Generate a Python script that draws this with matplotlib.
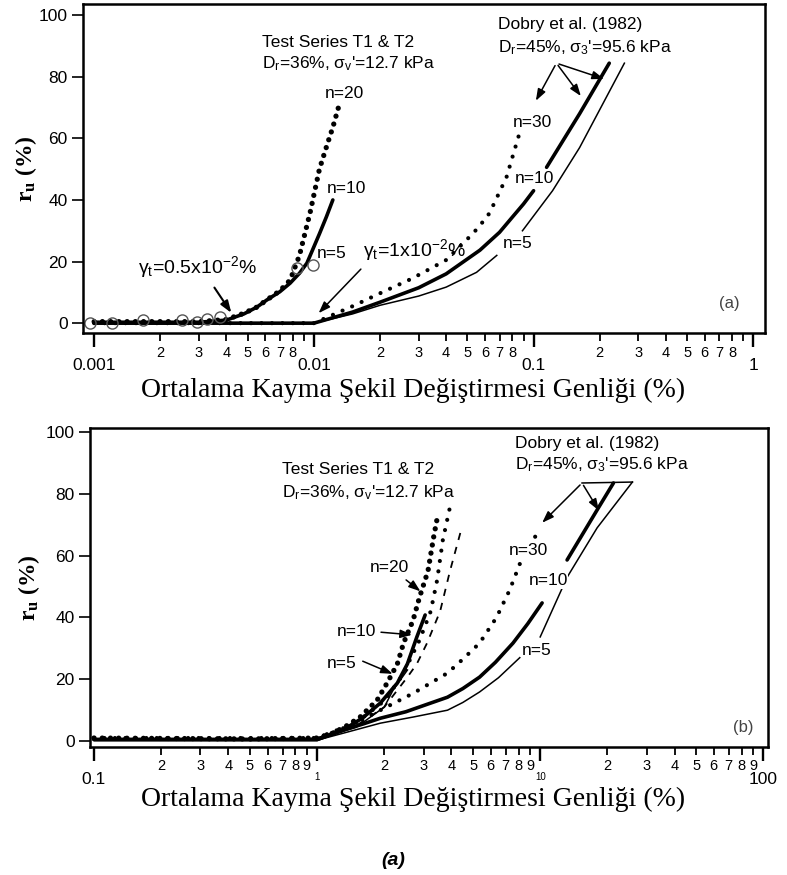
import matplotlib
matplotlib.use('Agg')
import matplotlib.pyplot as plt
from matplotlib.ticker import FixedLocator, FuncFormatter

plt.rcParams['font.family'] = ['Liberation Sans', 'DejaVu Sans']
plt.rcParams['mathtext.fontset'] = 'custom'
plt.rcParams['mathtext.rm'] = 'Liberation Sans'
plt.rcParams['mathtext.it'] = 'Liberation Sans:italic'
plt.rcParams['mathtext.bf'] = 'Liberation Serif:bold'

# ---------------- panel (a) data ----------------
a_t20_x = [0.001, 0.002, 0.003, 0.004, 0.0048, 0.0055, 0.0061, 0.007, 0.0078, 0.0086, 0.0096, 0.0106, 0.0115, 0.0122, 0.0131]
a_t20_y = [0.5, 0.5, 0.5, 1.2, 3.2, 5.2, 7.5, 10.5, 14, 22, 35.7, 50, 58, 63.6, 71.4]
a_t10_x = [0.001, 0.002, 0.003, 0.004, 0.0048, 0.0055, 0.0061, 0.007, 0.0078, 0.0086, 0.0093, 0.0106, 0.0114, 0.0122]
a_t10_y = [0.3, 0.3, 0.3, 1.0, 3.0, 5.2, 7.5, 10.2, 13, 16.2, 19.5, 29, 34.5, 40]
a_circ_x = [0.00096, 0.00121, 0.00167, 0.00251, 0.00294, 0.00326, 0.00374, 0.0084, 0.0099]
a_circ_y = [0, 0, 1, 1, 0.5, 1.5, 2, 18, 19]

a_d30_x = [0.001, 0.01, 0.015, 0.02, 0.028, 0.040, 0.0495, 0.056, 0.063, 0.0753, 0.0863]
a_d30_y = [0, 0, 5.5, 9.7, 14.5, 20.5, 27, 31, 35.7, 47.4, 61.7]
a_d10_x1 = [0.001, 0.01, 0.015, 0.02, 0.03, 0.040, 0.057, 0.07, 0.080, 0.09, 0.1]
a_d10_y1 = [0, 0, 3.6, 6.8, 11.5, 16, 23.7, 29.5, 34.4, 38.7, 43]
a_d10_x2 = [0.1146, 0.162, 0.221]
a_d10_y2 = [50.6, 68, 84.4]
a_d5_x1 = [0.001, 0.01, 0.015, 0.02, 0.03, 0.04, 0.055, 0.068]
a_d5_y1 = [0, 0, 3, 5.8, 8.8, 11.7, 16.5, 22]
a_d5_x2 = [0.089, 0.122, 0.162, 0.259]
a_d5_y2 = [30, 43, 57, 84.4]

# ---------------- panel (b) data ----------------
b_t20_x = [0.1, 0.5, 1.0, 1.18, 1.36, 1.56, 1.86, 2.06, 2.29, 2.44, 2.69, 2.88, 3.14, 3.33, 3.49]
b_t20_y = [1, 0.7, 1, 2.6, 5, 7.8, 13.3, 18.8, 25, 31.7, 39, 46.6, 55, 66, 73.8]
b_tb_x = [1.0, 1.5, 2.0, 2.4, 2.88, 3.23, 3.45, 3.66, 3.94]
b_tb_y = [1, 6, 13, 21, 32.7, 42, 52, 65, 75.7]
b_tc_x = [1.0, 1.5, 2.0, 2.54, 2.80, 3.11, 3.56, 3.94, 4.41]
b_tc_y = [1, 5, 11, 20.7, 25, 31.7, 42, 55, 68]
b_t10_x = [0.1, 1.0, 1.3, 1.6, 1.92, 2.29, 2.54, 2.80, 3.05]
b_t10_y = [0.5, 0.5, 3.5, 7.5, 12.3, 18.8, 25, 33.7, 40.8]
b_t5_x = [1.0, 1.5, 2.0, 2.19, 2.54]
b_t5_y = [0.5, 4.5, 11, 16.5, 23]

b_d30_x = [0.1, 1.0, 1.2, 1.5, 1.92, 2.7, 3.84, 4.5, 5.35, 6.37, 7.3, 8.13, 9.7]
b_d30_y = [1, 1, 3, 6, 10, 15.5, 22, 26.5, 31.7, 40, 48.9, 57.6, 67.3]
b_d10_x1 = [0.1, 1.0, 1.3, 1.6, 1.92, 2.5, 3.0, 3.84, 4.5, 5.35, 6.3, 7.55, 8.8, 10.2]
b_d10_y1 = [0.5, 0.5, 3.5, 5.5, 7.4, 9.5, 11.5, 14.2, 17, 20.7, 25.5, 31.7, 38, 44.7]
b_d10_x2 = [13.2, 18, 21.3]
b_d10_y2 = [58.6, 74.8, 83.5]
b_d5_x1 = [1.0, 1.3, 1.92, 2.7, 3.84, 4.5, 5.35, 6.5, 8.1]
b_d5_y1 = [0.3, 2.5, 5.8, 7.8, 10, 12.5, 15.9, 20.5, 27]
b_d5_x2 = [10, 13.2, 18, 25.9]
b_d5_y2 = [33.7, 53, 69, 83.8]
b_bracket_x = [15.4, 25.9]
b_bracket_y = [83.5, 83.8]

y_ticks = [0, 20, 40, 60, 80, 100]
xlabel_text = 'Ortalama Kayma Şekil Değiştirmesi Genliği (%)'

DOT_BIG = dict(color='black', lw=3.8, linestyle=(0, (0.01, 1.55)), dash_capstyle='round')
DOT_SMALL = dict(color='black', lw=3.0, linestyle=(0, (0.01, 2.5)), dash_capstyle='round')
THICK = dict(color='black', lw=2.6, solid_capstyle='round', solid_joinstyle='round')
THIN = dict(color='black', lw=1.1, solid_joinstyle='round')
ARROW = dict(arrowstyle='-|>,head_length=0.7,head_width=0.25', color='black', lw=1.1)
TXT = 12.5
WHITE = dict(facecolor='white', edgecolor='none', pad=0.5)

fig = plt.figure(figsize=(7.87, 8.75), dpi=100)
ax1 = fig.add_axes([0.1055, 0.6194, 0.8665, 0.376])
ax2 = fig.add_axes([0.1144, 0.1463, 0.8615, 0.3646])


def style_axis(ax, xmin, xmax, decades, minor_digits):
    ax.set_xscale('log')
    ax.set_xlim(xmin, xmax)
    ax.set_yticks(y_ticks)
    for s in ax.spines.values():
        s.set_linewidth(1.8)
    ax.xaxis.set_major_locator(FixedLocator(decades))
    minors = [d * k for d in decades[:-1] for k in range(2, 10)]
    ax.xaxis.set_minor_locator(FixedLocator(minors))
    labels = {d: '%g' % d for d in decades}
    ax.xaxis.set_major_formatter(FuncFormatter(lambda v, p: labels[min(labels, key=lambda k: abs(k - v))]))

    def minor_fmt(v, p):
        for d in decades:
            k = round(v / d)
            if abs(v / d - k) < 1e-6 and 2 <= k <= 9:
                return str(k) if k in minor_digits else ''
        return ''
    ax.xaxis.set_minor_formatter(FuncFormatter(minor_fmt))
    ax.tick_params(axis='x', which='major', direction='out', length=10, width=1.7, pad=8, labelsize=12.5)
    ax.tick_params(axis='x', which='minor', direction='out', length=6, width=1.3, pad=3, labelsize=10.5)
    ax.tick_params(axis='y', direction='out', length=8, width=1.2, pad=3, labelsize=12.5)
    ax.set_xlabel(xlabel_text, family='Liberation Serif', fontsize=20)
    ax.set_ylabel(r'$\mathbf{r_u}$ (%)', family='Liberation Serif', fontweight='bold', fontsize=17)


# ---------------- panel (a) ----------------
style_axis(ax1, 0.00089, 1.13, [0.001, 0.01, 0.1, 1], [2, 3, 4, 5, 6, 7, 8])
ax1.set_ylim(-3.2, 103.6)
ax1.xaxis.set_label_coords(0.484, -0.137)
ax1.yaxis.set_label_coords(-0.064, 0.5)

ax1.plot(a_d30_x, a_d30_y, **DOT_SMALL)
ax1.plot(a_d10_x1, a_d10_y1, **THICK)
ax1.plot(a_d10_x2, a_d10_y2, **THICK)
ax1.plot(a_d5_x1, a_d5_y1, **THIN)
ax1.plot(a_d5_x2, a_d5_y2, **THIN)
ax1.plot(a_t20_x, a_t20_y, **DOT_BIG)
ax1.plot(a_t10_x, a_t10_y, **THICK)
ax1.plot(a_circ_x, a_circ_y, 'o', mfc='none', mec='#555555', ms=8, mew=1.0)

ax1.text(0.0058, 91, 'Test Series T1 & T2', fontsize=TXT, va='center')
ax1.text(0.0058, 84.4, "D$_\\mathrm{r}$=36%, σ$_\\mathrm{v}$'=12.7 kPa", fontsize=TXT, va='center')
ax1.text(0.0686, 96.8, 'Dobry et al. (1982)', fontsize=TXT, va='center')
ax1.text(0.0686, 89.6, "D$_\\mathrm{r}$=45%, σ$_\\mathrm{3}$'=95.6 kPa", fontsize=TXT, va='center')
ax1.text(0.0112, 74.7, 'n=20', fontsize=TXT, va='center')
ax1.text(0.0114, 43.8, 'n=10', fontsize=TXT, va='center')
ax1.text(0.0103, 22.7, 'n=5', fontsize=TXT, va='center')
ax1.text(0.0804, 65, 'n=30', fontsize=TXT, va='center', bbox=WHITE)
ax1.text(0.0817, 47, 'n=10', fontsize=TXT, va='center', bbox=WHITE)
ax1.text(0.0723, 26, 'n=5', fontsize=TXT, va='center', bbox=WHITE)
ax1.text(0.70, 6.5, '(a)', fontsize=12, va='center', color='#444444')
ax1.text(0.00158, 18.2, 'γ$_\\mathrm{t}$=0.5x10$^{-2}$%', fontsize=14, va='center')
ax1.text(0.0167, 23.7, 'γ$_\\mathrm{t}$=1x10$^{-2}$%', fontsize=14, va='center')

ax1.annotate('', xy=(0.00428, 2.6), xytext=(0.00347, 12.3), arrowprops=dict(ARROW, lw=1.5))
ax1.annotate('', xy=(0.0103, 2.6), xytext=(0.0167, 18.2), arrowprops=ARROW)
ax1.annotate('', xy=(0.101, 71.4), xytext=(0.127, 84.4), arrowprops=ARROW)
ax1.annotate('', xy=(0.167, 73), xytext=(0.127, 84.4), arrowprops=ARROW)
ax1.annotate('', xy=(0.215, 79), xytext=(0.127, 84.4), arrowprops=ARROW)

# ---------------- panel (b) ----------------
style_axis(ax2, 0.096, 105, [0.1, 1, 10, 100], [2, 3, 4, 5, 6, 7, 8, 9])
ax2.set_ylim(-1.9, 101.3)
ax2.xaxis.set_label_coords(0.476, -0.125)
ax2.yaxis.set_label_coords(-0.071, 0.5)
# the "1" and "10" decade labels are tiny in the original
for tick in ax2.xaxis.get_major_ticks()[1:3]:
    tick.label1.set_fontsize(7)

ax2.plot(b_d30_x, b_d30_y, **DOT_SMALL)
ax2.plot(b_d10_x1, b_d10_y1, **THICK)
ax2.plot(b_d10_x2, b_d10_y2, **THICK)
ax2.plot(b_d5_x1, b_d5_y1, **THIN)
ax2.plot(b_d5_x2, b_d5_y2, **THIN)
ax2.plot(b_tc_x, b_tc_y, color='black', lw=1.3, linestyle=(0, (4, 4)))
ax2.plot(b_tb_x, b_tb_y, **DOT_SMALL)
ax2.plot(b_t5_x, b_t5_y, **THIN)
ax2.plot(b_t10_x, b_t10_y, **THICK)
ax2.plot(b_t20_x, b_t20_y, **DOT_BIG)
ax2.plot(b_bracket_x, b_bracket_y, **THIN)

ax2.text(0.697, 88, 'Test Series T1 & T2', fontsize=TXT, va='center')
ax2.text(0.697, 80.3, "D$_\\mathrm{r}$=36%, σ$_\\mathrm{v}$'=12.7 kPa", fontsize=TXT, va='center')
ax2.text(7.73, 96.4, 'Dobry et al. (1982)', fontsize=TXT, va='center')
ax2.text(7.73, 89.3, "D$_\\mathrm{r}$=45%, σ$_\\mathrm{3}$'=95.6 kPa", fontsize=TXT, va='center')
ax2.text(1.73, 56, 'n=20', fontsize=TXT, va='center')
ax2.text(1.23, 35.3, 'n=10', fontsize=TXT, va='center')
ax2.text(1.11, 25.2, 'n=5', fontsize=TXT, va='center')
ax2.text(7.2, 61.8, 'n=30', fontsize=TXT, va='center', bbox=WHITE)
ax2.text(8.85, 52, 'n=10', fontsize=TXT, va='center', bbox=WHITE)
ax2.text(8.3, 29.4, 'n=5', fontsize=TXT, va='center', bbox=WHITE)
ax2.text(73, 4.5, '(b)', fontsize=12, va='center', color='#444444')

ax2.annotate('', xy=(2.97, 47.9), xytext=(2.45, 52.7), arrowprops=ARROW)
ax2.annotate('', xy=(2.74, 34.3), xytext=(1.88, 35.3), arrowprops=ARROW)
ax2.annotate('', xy=(2.24, 21.4), xytext=(1.56, 26.2), arrowprops=ARROW)
ax2.annotate('', xy=(10, 70), xytext=(15.4, 83.5), arrowprops=ARROW)
ax2.annotate('', xy=(18.6, 73.8), xytext=(15.4, 83.5), arrowprops=ARROW)

fig.text(0.5, 0.017, '(a)', ha='center', va='center', fontsize=14, fontweight='bold', fontstyle='italic')

fig.savefig('out.png', dpi=100)
